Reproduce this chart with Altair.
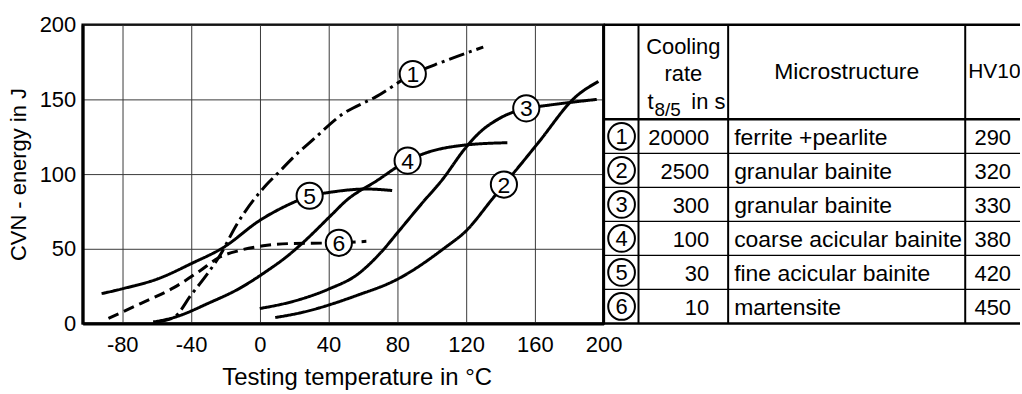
import altair as alt
import pandas as pd

FONT = "Liberation Sans, Arial, sans-serif"

# Charpy V-notch curves: testing temperature (°C) -> impact energy (J)
T1 = [-60, -50, -40, -30, -24, -13, 4, 10, 23, 29, 48, 68, 89, 106, 130]
E1 = [1, 4, 19, 34, 44, 67, 93, 100, 115, 121, 140, 152, 167, 175, 185]
T2 = [9, 23, 57, 79, 108, 120, 135, 142, 150, 162, 184, 197]
E2 = [4, 7, 19, 29, 51, 62, 83, 93, 104, 121, 152, 162]
T3 = [0, 20, 40, 57, 70, 81, 94, 106, 120, 128, 139, 155, 164, 196]
E3 = [10, 15, 23, 33, 47, 62, 80, 96, 118, 128, 137, 144, 145.5, 150]
T4 = [-62, -50, -30, -11, 2, 17, 25, 42, 50, 68, 86, 95, 120, 144]
E4 = [1, 4, 13.5, 24, 33.5, 46, 54, 73, 82, 95.5, 109, 113.5, 119.5, 121]
T5 = [-92, -79, -59, -40, -21, 0, 19.5, 29, 39, 62, 77]
E5 = [20, 23.5, 30, 40, 51, 69, 81, 85.5, 87.5, 90, 89]
T6 = [-88, -69, -50, -34.5, -24, -11.4, 2, 17.5, 46, 62]
E6 = [3.5, 13.5, 24, 35.5, 44, 49, 52, 53.5, 54, 55]

# numbered markers sitting on the curves
LABEL_ID = ["1", "2", "3", "4", "5", "6"]
LABEL_T = [89, 142, 155, 86, 29, 46]
LABEL_E = [167, 93, 144, 109, 85.5, 54]

X_TICKS = [-80, -40, 0, 40, 80, 120, 160, 200]
Y_TICKS = [0, 50, 100, 150, 200]

# key table
ROW_ID = ["1", "2", "3", "4", "5", "6"]
COOLING = ["20000", "2500", "300", "100", "30", "10"]
MICRO = ["ferrite +pearlite", "granular bainite", "granular bainite",
         "coarse acicular bainite", "fine acicular bainite", "martensite"]
HV10 = ["290", "320", "330", "380", "420", "450"]

# ---- plot ----
curves = {"1": (T1, E1), "2": (T2, E2), "3": (T3, E3),
          "4": (T4, E4), "5": (T5, E5), "6": (T6, E6)}
rows = []
for cid, (ts, es) in curves.items():
    for i, (t, e) in enumerate(zip(ts, es)):
        rows.append({"curve": cid, "seq": i, "T": t, "E": e})
df = pd.DataFrame(rows)
df["style"] = df["curve"].map({"1": "dashdot", "6": "dashed"}).fillna("solid")

labels = pd.DataFrame({"id": LABEL_ID, "T": LABEL_T, "E": LABEL_E})

x_enc = alt.X("T:Q", scale=alt.Scale(domain=[-103, 200], nice=False, zero=False),
              axis=alt.Axis(values=X_TICKS, title="Testing temperature in °C",
                            labelExpr="toString(datum.value)", labelFlush=False,
                            labelPadding=11, titleX=275, titleY=54, titleFontSize=24,
                            titleBaseline="middle", titleAlign="center"))
y_enc = alt.Y("E:Q", scale=alt.Scale(domain=[0, 200], nice=False),
              axis=alt.Axis(values=Y_TICKS, title="CVN - energy in J",
                            labelPadding=7, titleX=-64, titleY=150, titleAngle=270,
                            titleFontSize=22, titleBaseline="middle", titleAlign="center"))

lines = alt.Chart(df).mark_line(interpolate="monotone", strokeWidth=3, color="black").encode(
    x=x_enc, y=y_enc, detail="curve:N", order="seq:Q",
    strokeDash=alt.StrokeDash("style:N", legend=None,
                              scale=alt.Scale(domain=["solid", "dashdot", "dashed"],
                                              range=[[1, 0], [16, 5, 3, 5], [11, 6]])))

marks = alt.Chart(labels).mark_point(shape="circle", filled=True, fill="white", stroke="black",
                                     strokeWidth=2, size=690, opacity=1).encode(x="T:Q", y="E:Q")
marks_txt = alt.Chart(labels).mark_text(font=FONT, fontSize=23, baseline="middle", dy=1,
                                        color="black").encode(x="T:Q", y="E:Q", text="id:N")

plot = alt.layer(lines, marks, marks_txt).properties(
    width=523, height=300, view=alt.ViewBackground(stroke="black", strokeWidth=2.5))

# ---- key table ----
TBL_W = 418
HEAD_H = 95
ROW_H = 205 / 6
V_RULES = [0, 35, 125, 363]
xs = alt.Scale(domain=[0, TBL_W], nice=False, zero=False)
ys = alt.Scale(domain=[300, 0], nice=False, zero=False)

h = [{"y": 0, "w": 2.5}, {"y": HEAD_H, "w": 2.5}, {"y": 300, "w": 2.5}]
h += [{"y": HEAD_H + k * ROW_H, "w": 1.2} for k in range(1, 6)]
hdf = pd.DataFrame(h)
hdf["x"] = 0
hdf["x2"] = TBL_W
vdf = pd.DataFrame({"x": V_RULES, "w": [3, 2, 2, 2], "y": 0, "y2": 300})

hrules = alt.Chart(hdf).mark_rule(color="black").encode(
    x=alt.X("x:Q", scale=xs, axis=None), x2="x2:Q",
    y=alt.Y("y:Q", scale=ys, axis=None), strokeWidth=alt.StrokeWidth("w:Q", scale=None))
vrules = alt.Chart(vdf).mark_rule(color="black").encode(
    x=alt.X("x:Q", scale=xs, axis=None),
    y=alt.Y("y:Q", scale=ys, axis=None), y2="y2:Q",
    strokeWidth=alt.StrokeWidth("w:Q", scale=None))

tdf = pd.DataFrame({"id": ROW_ID, "rate": COOLING, "micro": MICRO, "hv": HV10})
tdf["ym"] = [HEAD_H + (k + 0.5) * ROW_H for k in range(6)]
tdf["xc"] = 18
tdf["xr"] = 106
tdf["xm"] = 131
tdf["xh"] = 409


def tx(field, xfield, align, size, dy=2):
    return alt.Chart(tdf).mark_text(font=FONT, fontSize=size, align=align, baseline="middle",
                                    dy=dy, color="black", clip=True).encode(
        x=alt.X(f"{xfield}:Q", scale=xs, axis=None),
        y=alt.Y("ym:Q", scale=ys, axis=None), text=f"{field}:N")


rcirc = alt.Chart(tdf).mark_point(shape="circle", filled=True, fill="white", stroke="black",
                                  strokeWidth=2, size=720, opacity=1).encode(
    x=alt.X("xc:Q", scale=xs, axis=None), y=alt.Y("ym:Q", scale=ys, axis=None))

head = pd.DataFrame({
    "txt": ["Cooling", "rate", "t", "8/5", "in s", "Microstructure", "HV10"],
    "x": [80, 80, 44, 51, 88, 244, 366],
    "y": [29, 57, 85, 92, 85, 48, 48],
    "align": ["center", "center", "left", "left", "left", "center", "left"],
    "size": [22, 22, 22, 19, 22, 23, 21],
    "base": ["alphabetic"] * 5 + ["middle", "middle"],
})


def head_layer(sel):
    d = head[sel].reset_index(drop=True)
    r = d.iloc[0]
    return alt.Chart(d).mark_text(font=FONT, fontSize=int(r["size"]), align=r["align"],
                                  baseline=r["base"], color="black", clip=True).encode(
        x=alt.X("x:Q", scale=xs, axis=None), y=alt.Y("y:Q", scale=ys, axis=None),
        text="txt:N")


head_layers = [
    head_layer(head["txt"].isin(["Cooling", "rate"])),
    head_layer(head["txt"].isin(["t", "in s"])),
    head_layer(head["txt"] == "8/5"),
    head_layer(head["txt"] == "Microstructure"),
    head_layer(head["txt"] == "HV10"),
]

table = alt.layer(
    hrules, vrules, rcirc,
    tx("id", "xc", "center", 22, dy=1),
    tx("rate", "xr", "right", 22),
    tx("micro", "xm", "left", 23),
    tx("hv", "xh", "right", 22),
    *head_layers,
).properties(width=TBL_W, height=300, view=alt.ViewBackground(stroke=None))

chart = alt.hconcat(plot, table, spacing=0, bounds="flush").configure(
    padding={"left": 6, "top": 11, "right": 0, "bottom": 0}, font=FONT
).configure_axis(
    grid=True, gridColor="#3a3a3a", gridWidth=1, domainColor="black", domainWidth=3,
    ticks=False, tickSize=0, labelFont=FONT, labelFontSize=22, labelColor="black",
    titleFont=FONT, titleFontWeight="normal", titleColor="black"
)

chart.save("out.html", embed_options={"renderer": "svg", "actions": False})
